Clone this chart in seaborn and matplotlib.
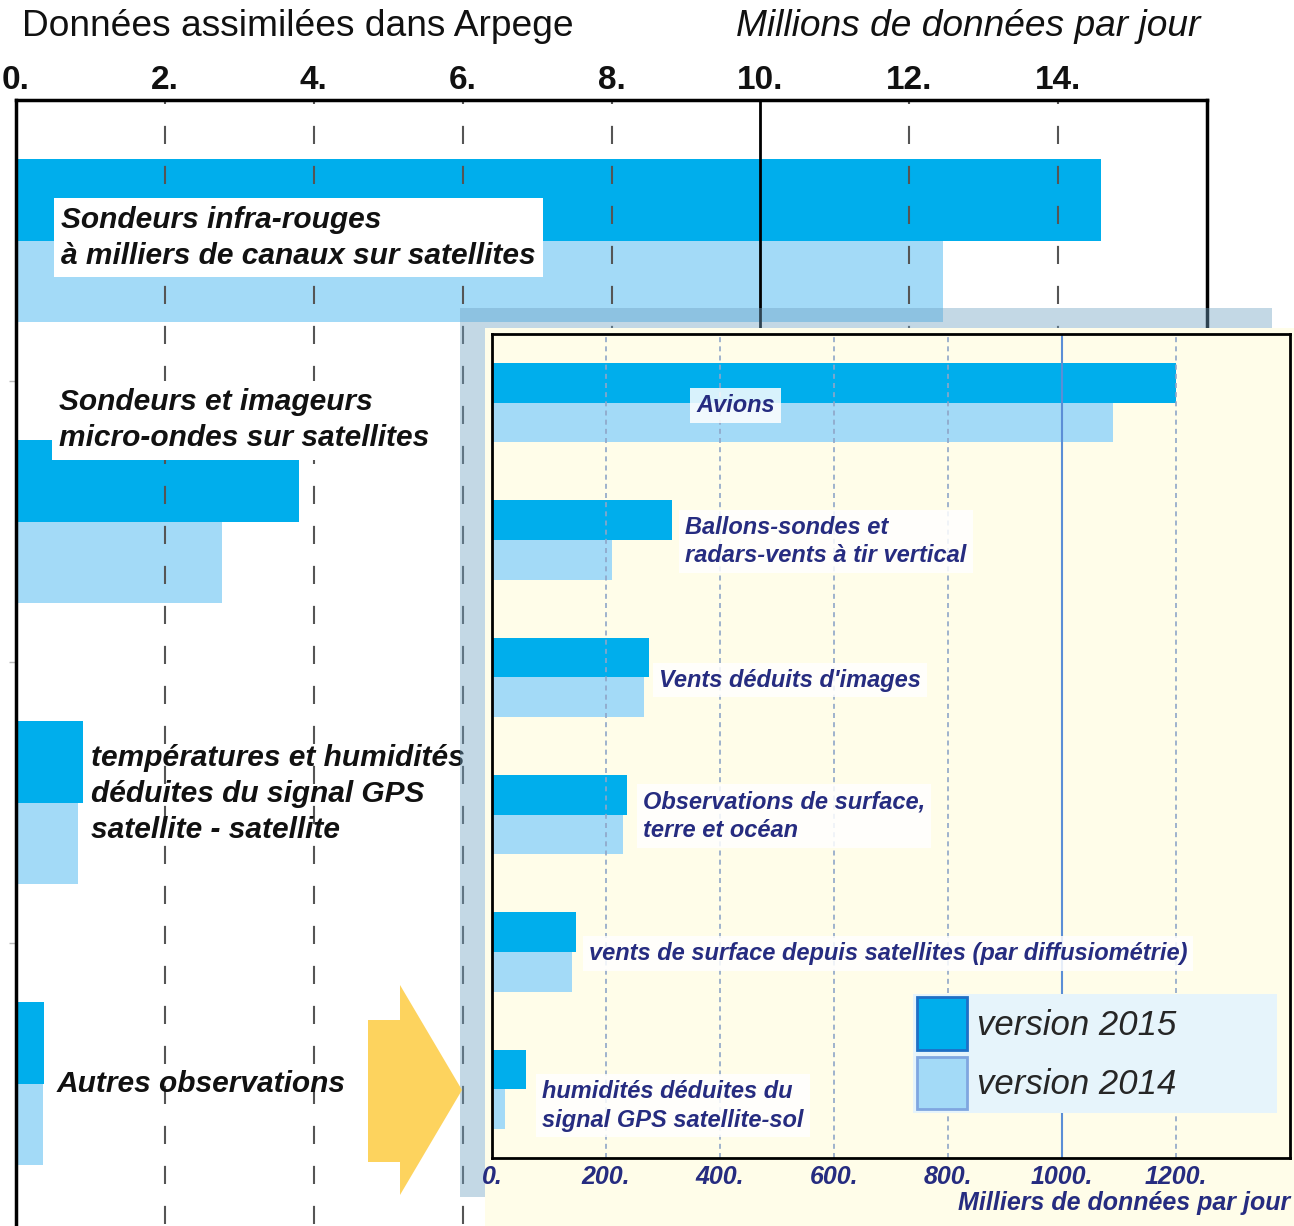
import pandas as pd
import matplotlib
matplotlib.use('Agg')
import matplotlib.pyplot as plt
from matplotlib.patches import Rectangle, Polygon, Patch
import seaborn as sns

# valeurs
versions = ['2015', '2014']
version_labels = ['version 2015', 'version 2014']

main_keys = ['ir', 'mw', 'gps_ro', 'autres']
main_labels = ['Sondeurs infra-rouges\nà milliers de canaux sur satellites',
               'Sondeurs et imageurs\nmicro-ondes sur satellites',
               'températures et humidités\ndéduites du signal GPS\nsatellite - satellite',
               'Autres observations']
main_2015 = [14.57, 3.80, 0.90, 0.38]
main_2014 = [12.45, 2.77, 0.83, 0.36]
main_ticks = [0, 2, 4, 6, 8, 10, 12, 14]
main_ticklabels = ['0.', '2.', '4.', '6.', '8.', '10.', '12.', '14.']

inset_keys = ['avions', 'ballons', 'amv', 'surface', 'scatt', 'gps_sol']
inset_labels = ['Avions',
                'Ballons-sondes et\nradars-vents à tir vertical',
                "Vents déduits d'images",
                'Observations de surface,\nterre et océan',
                'vents de surface depuis satellites (par diffusiométrie)',
                'humidités déduites du\nsignal GPS satellite-sol']
inset_2015 = [1200, 315, 275, 237, 147, 60]
inset_2014 = [1090, 210, 267, 230, 140, 23]
inset_ticks = [0, 200, 400, 600, 800, 1000, 1200]
inset_ticklabels = ['0.', '200.', '400.', '600.', '800.', '1000.', '1200.']

# placement des étiquettes (x en données, décalage vertical en rangées)
main_label_pos = [(0.61, -0.01), (0.58, -0.36), (1.01, -0.03), (0.54, 0.0)]
main_label_box = [True, True, False, False]
inset_label_pos = [(358, 0.02), (339, 0.01), (293, 0.02), (265, 0.01), (170, 0.01), (88, 0.12)]

c15, c14 = '#00AEEC', '#A3DAF7'
pal = {'2015': c15, '2014': c14}
navy = '#262C80'
cream = '#FFFDE9'

sns.set_theme(style='white')
plt.rcParams['font.family'] = ['Liberation Sans', 'DejaVu Sans']

df_main = pd.DataFrame({'cat': main_keys * 2,
                        'version': ['2015'] * len(main_keys) + ['2014'] * len(main_keys),
                        'val': main_2015 + main_2014})
df_inset = pd.DataFrame({'cat': inset_keys * 2,
                         'version': ['2015'] * len(inset_keys) + ['2014'] * len(inset_keys),
                         'val': inset_2015 + inset_2014})

W, H = 1294, 1226
fig = plt.figure(figsize=(W / 100, H / 100), dpi=100)
fig.patch.set_facecolor('white')

# axe principal
ax = fig.add_axes([16 / W, 2 / H, 1191 / W, 1124 / H], zorder=0)
sns.barplot(data=df_main, y='cat', x='val', hue='version', order=main_keys,
            hue_order=versions, palette=pal, orient='h', width=0.58, gap=0,
            saturation=1, errorbar=None, legend=False, linewidth=0, ax=ax)
ax.set_xlim(0, 16)
ax.set_ylim(3.5, -0.5)
ax.set_xlabel('')
ax.set_ylabel('')
ax.xaxis.tick_top()
ax.set_xticks(main_ticks)
ax.set_xticklabels(main_ticklabels, fontsize=24, fontweight='bold', color='#111111')
ax.tick_params(axis='x', length=0, pad=3)
ax.set_yticks([0.5, 1.5, 2.5])
ax.set_yticklabels([])
ax.tick_params(axis='y', length=5, width=1, color='#bbbbbb', left=True)
for s in ['left', 'top', 'right']:
    ax.spines[s].set_color('black')
    ax.spines[s].set_linewidth(2.5)
ax.spines['bottom'].set_visible(False)

for t in main_ticks[1:]:
    if t == 10:
        ax.axvline(t, color='black', lw=2, zorder=2)
    else:
        ax.axvline(t, color='#555555', lw=1.5, ls=(0, (8.7, 10.5)), zorder=2)

for i, lab in enumerate(main_labels):
    x, dy = main_label_pos[i]
    box = dict(boxstyle='square,pad=0.25', fc='white', ec='none') if main_label_box[i] else None
    ax.text(x, i + dy, lab, fontsize=21.5, fontweight='bold', fontstyle='italic',
            color='#111111', va='center', ha='left', linespacing=1.35, bbox=box, zorder=4)

# fond crème, bandeau gris-bleu et flèche
fig.add_artist(Rectangle((485 / W, 0), 1 - 485 / W, 1 - 328 / H, transform=fig.transFigure,
                         fc=cream, ec='none', zorder=1))
fig.add_artist(Rectangle((460 / W, 1 - 328 / H), (1272 - 460) / W, 20 / H,
                         transform=fig.transFigure, fc='#70A2C3', ec='none', alpha=0.42, zorder=2))
fig.add_artist(Rectangle((460 / W, 1 - 1197 / H), 25 / W, (1197 - 328) / H,
                         transform=fig.transFigure, fc='#70A2C3', ec='none', alpha=0.42, zorder=2))
arrow_px = [(368, 1020), (400, 1020), (400, 985), (462, 1090), (400, 1195), (400, 1162), (368, 1162)]
fig.add_artist(Polygon([(x / W, 1 - y / H) for x, y in arrow_px], closed=True,
                       transform=fig.transFigure, fc='#FDD35E', ec='none', zorder=2))

# encart
axi = fig.add_axes([492 / W, 1 - 1158 / H, 798 / W, 824 / H], zorder=3)
axi.set_facecolor(cream)
sns.barplot(data=df_inset, y='cat', x='val', hue='version', order=inset_keys,
            hue_order=versions, palette=pal, orient='h', width=0.58, gap=0,
            saturation=1, errorbar=None, legend=False, linewidth=0, ax=axi)
axi.set_xlim(0, 1400)
axi.set_ylim(5.5, -0.5)
axi.set_xlabel('')
axi.set_ylabel('')
axi.set_yticks([])
axi.set_xticks(inset_ticks)
axi.set_xticklabels(inset_ticklabels, fontsize=18, fontweight='bold', fontstyle='italic', color=navy)
axi.tick_params(axis='x', length=0, pad=5)
for s in axi.spines.values():
    s.set_visible(True)
    s.set_color('black')
    s.set_linewidth(2)

for t in inset_ticks[1:]:
    if t == 1000:
        axi.axvline(t, color='#5B8ED6', lw=1.5, zorder=2)
    else:
        axi.axvline(t, color='#8FA6C8', lw=1.2, ls=(0, (3, 2.5)), zorder=2)

for i, lab in enumerate(inset_labels):
    x, dy = inset_label_pos[i]
    axi.text(x, i + dy, lab, fontsize=17, fontweight='bold', fontstyle='italic', color=navy,
             va='center', ha='left', linespacing=1.3, zorder=4,
             bbox=dict(boxstyle='square,pad=0.25', fc='white', ec='none', alpha=0.85))

axi.text(1.0, -0.055, 'Milliers de données par jour', transform=axi.transAxes,
         fontsize=18, fontweight='bold', fontstyle='italic', color=navy, ha='right', va='center')

handles = [Patch(fc=c15, ec='#1F6FC5', lw=2), Patch(fc=c14, ec='#7FA6E0', lw=2)]
leg = axi.legend(handles, version_labels, loc='upper left',
                 bbox_to_anchor=(0.528, 0.056, 0.456, 0.143), mode='expand',
                 frameon=True, fancybox=False, framealpha=1, facecolor='#E6F4FB', edgecolor='none',
                 prop={'size': 25, 'style': 'italic'}, handlelength=1.44, handleheight=1.95,
                 handletextpad=0.3, labelspacing=0.2, borderpad=0.1, borderaxespad=0)
leg.set_zorder(5)

# titres
fig.text(22 / W, 1 - 27 / H, 'Données assimilées dans Arpege', fontsize=26.7, color='#111111',
         ha='left', va='center')
fig.text(1200 / W, 1 - 27 / H, 'Millions de données par jour', fontsize=26.7, fontstyle='italic',
         color='#111111', ha='right', va='center')

fig.savefig('out.png', dpi=100)
